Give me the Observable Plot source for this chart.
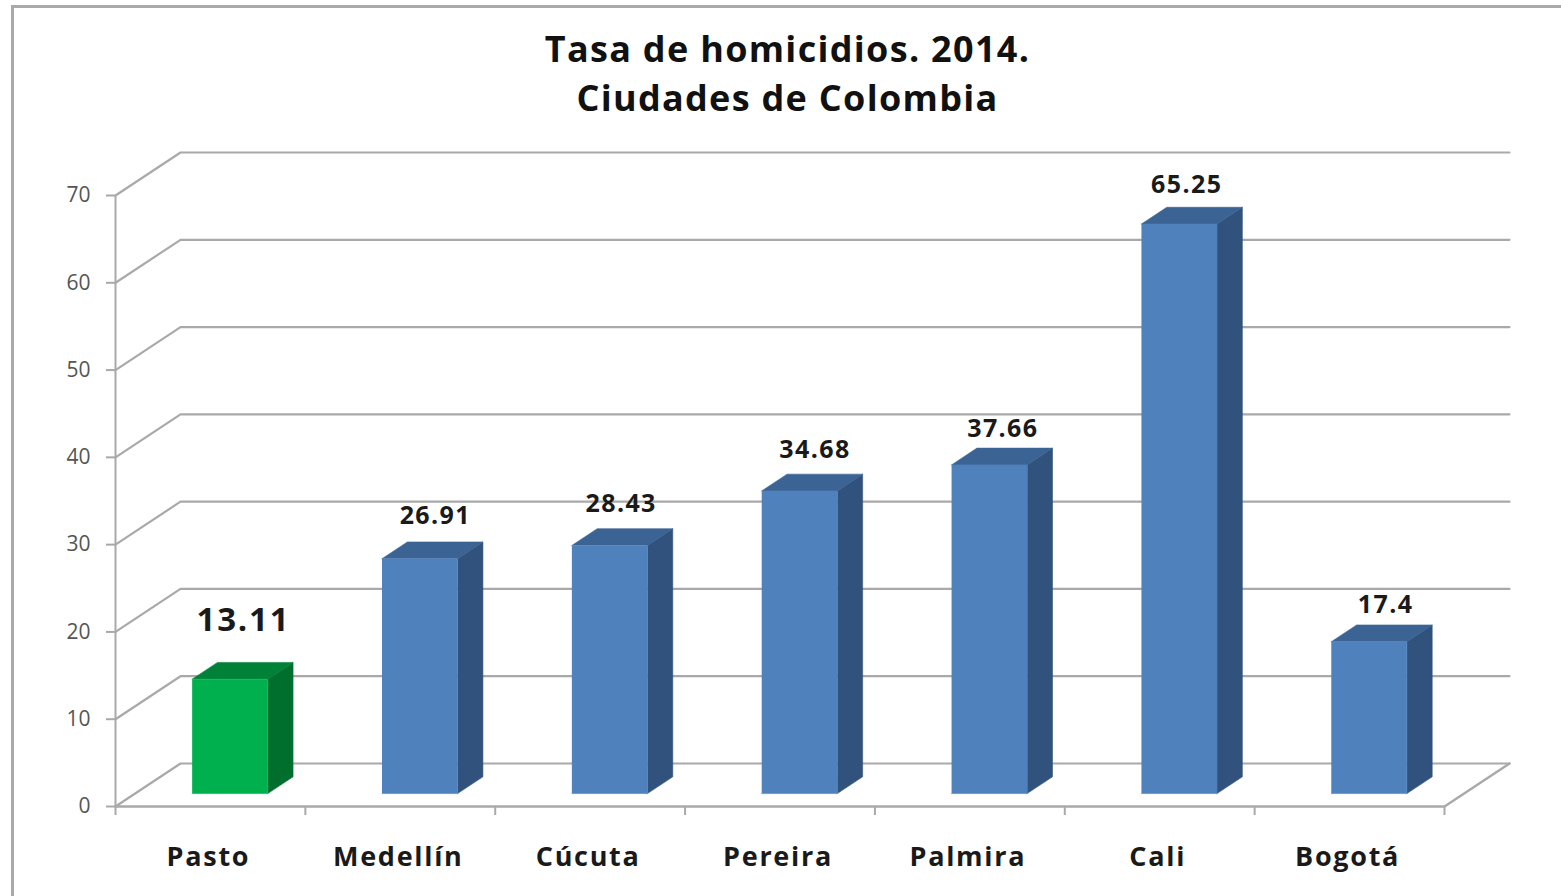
<!DOCTYPE html>
<html lang="es">
<head>
<meta charset="utf-8">
<script src="https://cdn.jsdelivr.net/npm/d3@7"></script>
<script src="https://cdn.jsdelivr.net/npm/@observablehq/plot@0.6"></script>
<style>
  html, body { margin: 0; padding: 0; background: #fff; width: 1561px; height: 896px; overflow: hidden; }
  #frame { position: absolute; left: 11px; top: 5px; right: 0; bottom: 0; border-left: 3px solid #a9a9a9; border-top: 3px solid #a9a9a9; }
  #title { position: relative; height: 130px; box-sizing: border-box; padding-top: 24px; padding-left: 14px; text-align: center;
           font: 700 36px/49px "Open Sans", sans-serif; color: #111; letter-spacing: 1.3px; }
  #chart { position: relative; display: block; }
  #chart svg { display: block; }
  .spaced-cat text { letter-spacing: 1.7px; }
  .spaced-val text { letter-spacing: 1.4px; }
  .spaced-big text { letter-spacing: 1.8px; }
</style>
</head>
<body>
<div id="frame"></div>
<div id="title">Tasa de homicidios. 2014.<br>Ciudades de Colombia</div>
<div id="chart"></div>
<script>
const categories = ["Pasto", "Medellín", "Cúcuta", "Pereira", "Palmira", "Cali", "Bogotá"];
const values = [13.11, 26.91, 28.43, 34.68, 37.66, 65.25, 17.4];
const valueLabels = ["13.11", "26.91", "28.43", "34.68", "37.66", "65.25", "17.4"];
const yTicks = [0, 10, 20, 30, 40, 50, 60, 70];

// Oblique projection expressed in data units: one full depth of the chart box
const depthX = 65 / 189.86;
const depthY = 43 / 8.73;
const barNear = 0.30, barFar = 0.69, barWidth = 0.398;
const project = (x, y, d) => ({x: x + d * depthX, y: y + d * depthY});

const gray = "#a9a9a9";
const font = '"Open Sans", sans-serif';
const faces = {
  blue: {front: "#4f81bd", side: "#30527c", top: "#3b6393"},
  green: {front: "#00b04f", side: "#006f2e", top: "#008138"}
};

const bars = categories.map((name, i) => {
  const left = i + 0.5 - barWidth / 2, right = i + 0.5 + barWidth / 2, v = values[i];
  return {name, i, v, left, right, c: i === 0 ? faces.green : faces.blue};
});

const polys = bars.flatMap(b => {
  const side = [[b.right, 0, barNear], [b.right, 0, barFar], [b.right, b.v, barFar], [b.right, b.v, barNear]];
  const top = [[b.left, b.v, barNear], [b.left, b.v, barFar], [b.right, b.v, barFar], [b.right, b.v, barNear]];
  const front = [[b.left, 0, barNear], [b.right, 0, barNear], [b.right, b.v, barNear], [b.left, b.v, barNear]];
  const mk = (pts, key, col) => pts.map(p => ({...project(p[0], p[1], p[2]), z: b.name + key, col}));
  return [...mk(side, "s", b.c.side), ...mk(top, "t", b.c.top), ...mk(front, "f", b.c.front)];
});

const wall = yTicks.flatMap(v => [
  {...project(0, v, 0), z: v}, {...project(0, v, 1), z: v}, {...project(7, v, 1), z: v}
]);
const floor = [project(0, 0, 0), project(7, 0, 0), project(7, 0, 1)];

const labelOffset = {
  Pasto: [33, -72], "Medellín": [35, -56], "Cúcuta": [31, -54], Pereira: [35, -54],
  Palmira: [33, -49], Cali: [27, -52], "Bogotá": [36, -50]
};

const plot = Plot.plot({
  width: 1561, height: 766,
  marginLeft: 115, marginRight: 117, marginTop: 65, marginBottom: 90,
  style: {fontFamily: font, background: "transparent", overflow: "visible"},
  x: {domain: [0, 7], axis: null},
  y: {domain: [0, 70], axis: null},
  marks: [
    Plot.line(wall, {x: "x", y: "y", z: "z", stroke: gray, strokeWidth: 2.2, curve: "linear"}),
    Plot.line(floor, {x: "x", y: "y", stroke: gray, strokeWidth: 2.4}),
    Plot.ruleX([0], {y1: 0, y2: 70, stroke: gray, strokeWidth: 2}),
    Plot.axisY({ticks: yTicks, tickSize: 9, tickPadding: 16, stroke: gray, strokeWidth: 2, fill: "#555", fontSize: 21, label: null, fontFamily: font}),
    Plot.axisX({ticks: d3.range(0, 8), tickSize: 9, tickFormat: () => "", stroke: gray, strokeWidth: 2, label: null}),
    Plot.line(polys, {x: "x", y: "y", z: "z", fill: "col", stroke: "col", strokeWidth: 0.6}),
    ...bars.map(b => Plot.text([b], {
      x: d => d.i + 0.5, y: "v", text: d => valueLabels[d.i],
      dx: labelOffset[b.name][0], dy: labelOffset[b.name][1],
      fontSize: b.i === 0 ? 33 : 25, fontWeight: 700, fill: "#1a1a1a", fontFamily: font,
      className: b.i === 0 ? "spaced-big" : "spaced-val"
    })),
    Plot.text(bars, {x: d => d.i + 0.5, y: 0, text: "name", dx: -2, dy: 51, fontSize: 27, fontWeight: 700, fill: "#1a1a1a", fontFamily: font, className: "spaced-cat"})
  ]
});
document.getElementById("chart").appendChild(plot);
</script>
</body>
</html>
